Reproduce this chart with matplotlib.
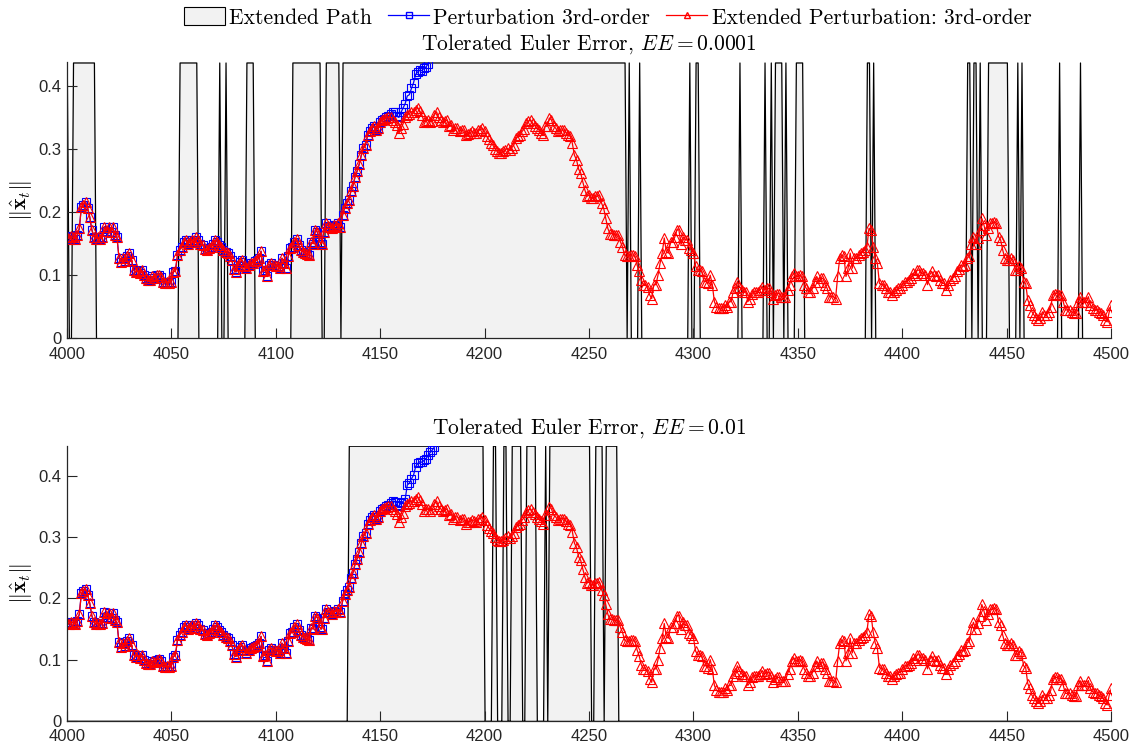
import numpy as np
import matplotlib
matplotlib.use("Agg")
import matplotlib.pyplot as plt
from matplotlib.patches import Patch
from matplotlib.lines import Line2D

plt.rcParams['mathtext.fontset'] = 'cm'
plt.rcParams['font.family'] = ['Liberation Sans', 'DejaVu Sans']

# ---------------- data ----------------
t_start, t_end = 4000, 4500
red_series = [
    0.160, 0.158, 0.162, 0.160, 0.158, 0.163, 0.174, 0.208, 0.212, 0.216,
    0.206, 0.192, 0.172, 0.161, 0.158, 0.160, 0.158, 0.160, 0.177, 0.170,
    0.176, 0.168, 0.176, 0.164, 0.161, 0.128, 0.121, 0.127, 0.123, 0.130,
    0.135, 0.124, 0.108, 0.105, 0.107, 0.103, 0.108, 0.100, 0.095, 0.093,
    0.093, 0.098, 0.096, 0.100, 0.101, 0.097, 0.089, 0.088, 0.090, 0.088,
    0.090, 0.105, 0.107, 0.132, 0.140, 0.145, 0.153, 0.156, 0.150, 0.153,
    0.156, 0.152, 0.160, 0.156, 0.150, 0.148, 0.142, 0.140, 0.143, 0.145,
    0.150, 0.156, 0.153, 0.148, 0.145, 0.140, 0.137, 0.135, 0.131, 0.124,
    0.110, 0.105, 0.116, 0.121, 0.124, 0.115, 0.111, 0.116, 0.119, 0.120,
    0.122, 0.124, 0.127, 0.138, 0.106, 0.108, 0.098, 0.116, 0.119, 0.116,
    0.114, 0.115, 0.111, 0.127, 0.119, 0.111, 0.130, 0.143, 0.145, 0.153,
    0.158, 0.148, 0.140, 0.137, 0.135, 0.133, 0.132, 0.152, 0.150, 0.172,
    0.168, 0.153, 0.150, 0.168, 0.182, 0.178, 0.177, 0.175, 0.180, 0.178,
    0.182, 0.177, 0.195, 0.207, 0.214, 0.219, 0.233, 0.242, 0.256, 0.265,
    0.276, 0.290, 0.301, 0.306, 0.322, 0.328, 0.333, 0.336, 0.330, 0.333,
    0.343, 0.346, 0.348, 0.349, 0.351, 0.350, 0.346, 0.342, 0.338, 0.325,
    0.333, 0.340, 0.351, 0.354, 0.356, 0.359, 0.359, 0.362, 0.365, 0.360,
    0.354, 0.343, 0.345, 0.346, 0.343, 0.345, 0.354, 0.359, 0.350, 0.346,
    0.343, 0.344, 0.346, 0.336, 0.338, 0.330, 0.333, 0.333, 0.328, 0.330,
    0.330, 0.322, 0.324, 0.325, 0.328, 0.326, 0.325, 0.330, 0.330, 0.333,
    0.328, 0.320, 0.315, 0.310, 0.306, 0.300, 0.296, 0.293, 0.294, 0.296,
    0.299, 0.301, 0.298, 0.302, 0.306, 0.317, 0.320, 0.322, 0.328, 0.332,
    0.341, 0.344, 0.346, 0.341, 0.337, 0.333, 0.330, 0.326, 0.322, 0.336,
    0.336, 0.349, 0.346, 0.336, 0.333, 0.328, 0.330, 0.330, 0.330, 0.326,
    0.322, 0.320, 0.309, 0.290, 0.283, 0.268, 0.262, 0.248, 0.235, 0.225,
    0.227, 0.222, 0.222, 0.225, 0.225, 0.227, 0.214, 0.206, 0.190, 0.174,
    0.166, 0.166, 0.164, 0.164, 0.164, 0.153, 0.145, 0.132, 0.130, 0.130,
    0.132, 0.132, 0.130, 0.116, 0.106, 0.092, 0.085, 0.085, 0.082, 0.069,
    0.063, 0.085, 0.085, 0.100, 0.119, 0.135, 0.159, 0.137, 0.135, 0.153,
    0.153, 0.160, 0.172, 0.172, 0.150, 0.161, 0.156, 0.156, 0.143, 0.140,
    0.135, 0.114, 0.108, 0.108, 0.106, 0.090, 0.090, 0.087, 0.100, 0.085,
    0.058, 0.050, 0.048, 0.048, 0.048, 0.053, 0.050, 0.058, 0.058, 0.074,
    0.079, 0.090, 0.082, 0.077, 0.074, 0.074, 0.058, 0.063, 0.071, 0.074,
    0.074, 0.074, 0.077, 0.082, 0.077, 0.079, 0.079, 0.074, 0.063, 0.069,
    0.071, 0.071, 0.066, 0.066, 0.066, 0.077, 0.085, 0.098, 0.103, 0.098,
    0.098, 0.100, 0.098, 0.085, 0.079, 0.074, 0.074, 0.079, 0.090, 0.098,
    0.090, 0.095, 0.095, 0.085, 0.079, 0.066, 0.066, 0.066, 0.063, 0.098,
    0.127, 0.132, 0.130, 0.098, 0.111, 0.135, 0.111, 0.127, 0.127, 0.132,
    0.135, 0.137, 0.140, 0.145, 0.174, 0.172, 0.145, 0.127, 0.119, 0.087,
    0.085, 0.085, 0.079, 0.074, 0.073, 0.069, 0.073, 0.076, 0.079, 0.079,
    0.085, 0.090, 0.090, 0.092, 0.095, 0.103, 0.100, 0.108, 0.108, 0.103,
    0.103, 0.100, 0.085, 0.100, 0.106, 0.100, 0.098, 0.100, 0.092, 0.087,
    0.087, 0.077, 0.085, 0.092, 0.095, 0.098, 0.106, 0.110, 0.116, 0.114,
    0.116, 0.127, 0.130, 0.150, 0.161, 0.150, 0.159, 0.172, 0.190, 0.180,
    0.164, 0.174, 0.182, 0.182, 0.185, 0.182, 0.161, 0.156, 0.140, 0.127,
    0.124, 0.124, 0.127, 0.124, 0.108, 0.108, 0.114, 0.111, 0.090, 0.087,
    0.061, 0.053, 0.042, 0.037, 0.032, 0.029, 0.032, 0.042, 0.037, 0.037,
    0.042, 0.050, 0.069, 0.071, 0.071, 0.069, 0.069, 0.058, 0.045, 0.045,
    0.045, 0.042, 0.040, 0.040, 0.058, 0.066, 0.058, 0.058, 0.058, 0.066,
    0.053, 0.048, 0.045, 0.045, 0.042, 0.040, 0.037, 0.029, 0.026, 0.042,
    0.053,
]

# blue series: identical to red up to 4150, then diverges (values from 4151 on)
blue_split = 4150
blue_tail_top = [0.346, 0.348, 0.350, 0.352, 0.356, 0.359, 0.358, 0.352, 0.350, 0.358,
                 0.365, 0.372, 0.384, 0.386, 0.396, 0.405, 0.418, 0.422, 0.425, 0.424,
                 0.428, 0.430, 0.435, 0.445]
blue_tail_bottom = [0.346, 0.348, 0.350, 0.352, 0.356, 0.359, 0.358, 0.352, 0.350, 0.356,
                    0.358, 0.362, 0.385, 0.388, 0.395, 0.401, 0.415, 0.420, 0.423, 0.422,
                    0.425, 0.428, 0.434, 0.438, 0.442, 0.447, 0.456]

# Extended-path periods (inclusive ranges of t)
ext_top = [(4000, 4000), (4003, 4013), (4054, 4062), (4073, 4073), (4076, 4076),
           (4086, 4089), (4108, 4121), (4124, 4130), (4132, 4267), (4269, 4269),
           (4274, 4274), (4298, 4298), (4301, 4302), (4322, 4322), (4334, 4334),
           (4337, 4337), (4339, 4342), (4344, 4344), (4349, 4352), (4383, 4384),
           (4386, 4386), (4431, 4432), (4434, 4435), (4437, 4437), (4441, 4450),
           (4455, 4455), (4457, 4457), (4475, 4475), (4485, 4485)]
ext_bottom = [(4135, 4199), (4204, 4205), (4209, 4210), (4213, 4217), (4220, 4224),
              (4229, 4229), (4231, 4250), (4253, 4256), (4258, 4263)]

titles = [r"Tolerated Euler Error, $EE = 0.0001$", r"Tolerated Euler Error, $EE = 0.01$"]
ylims = [0.437, 0.449]
xticks = [4000, 4050, 4100, 4150, 4200, 4250, 4300, 4350, 4400, 4450, 4500]
yticks = [0, 0.1, 0.2, 0.3, 0.4]
ytick_labels = ['0', '0.1', '0.2', '0.3', '0.4']
legend_labels = ['Extended Path', 'Perturbation 3rd-order', 'Extended Perturbation: 3rd-order']

# ---------------- plot ----------------
t = np.arange(t_start, t_end + 1)
red = np.array(red_series)

fig = plt.figure(figsize=(11.47, 7.51), dpi=100)
ax1 = fig.add_axes([0.0582, 0.5495, 0.9107, 0.3673])
ax2 = fig.add_axes([0.0582, 0.0400, 0.9107, 0.3665])

gray_fill = (0.95, 0.95, 0.95)
axis_col = (0.15, 0.15, 0.15)

for ax, ext, tail, ttl, ytop in [(ax1, ext_top, blue_tail_top, titles[0], ylims[0]),
                                  (ax2, ext_bottom, blue_tail_bottom, titles[1], ylims[1])]:
    ind = np.zeros_like(t, dtype=float)
    for a, b in ext:
        ind[(t >= a) & (t <= b)] = 1.0
    ax.fill_between(t, 0, ind * ytop, facecolor=gray_fill, edgecolor='black',
                    linewidth=0.9, zorder=1)

    n_head = blue_split - t_start + 1
    blue = np.concatenate([red[:n_head], np.array(tail)])
    tb = np.arange(t_start, t_start + len(blue))
    ax.plot(tb, blue, color='blue', lw=0.9, marker='s', ms=5.5, mfc='none',
            mec='blue', mew=0.8, zorder=2)
    ax.plot(t, red, color='red', lw=0.9, marker='^', ms=6.5, mfc='none',
            mec='red', mew=0.8, zorder=3)

    ax.set_xlim(t_start, t_end)
    ax.set_ylim(0, ytop)
    ax.set_xticks(xticks)
    ax.set_yticks(yticks)
    ax.set_yticklabels(ytick_labels)
    for s in ['top', 'right']:
        ax.spines[s].set_visible(False)
    for s in ['left', 'bottom']:
        ax.spines[s].set_color(axis_col)
        ax.spines[s].set_linewidth(0.9)
        ax.spines[s].set_zorder(5)
    ax.tick_params(direction='in', length=7, width=0.8, color=axis_col,
                   labelcolor=axis_col, labelsize=12)
    ax.tick_params(axis='x', pad=6)
    ax.tick_params(axis='y', pad=4)
    ax.set_ylabel(r'$\|\hat{\mathbf{x}}_t\|$', fontsize=16, labelpad=2)
    ax.set_title(ttl, fontfamily='cmr10', fontsize=15.5, pad=9)

handles = [Patch(facecolor=gray_fill, edgecolor='black', linewidth=0.8),
           Line2D([], [], color='blue', lw=0.9, marker='s', ms=4, mfc='none', mec='blue'),
           Line2D([], [], color='red', lw=0.9, marker='^', ms=5, mfc='none', mec='red')]
fig.legend(handles, legend_labels, loc='center', bbox_to_anchor=(0.5297, 0.977), ncol=3,
           frameon=False, prop={'family': 'cmr10', 'size': 15.5}, handlelength=1.9,
           handleheight=0.95, handletextpad=0.2, columnspacing=0.75)

fig.savefig('out.png', dpi=100)
